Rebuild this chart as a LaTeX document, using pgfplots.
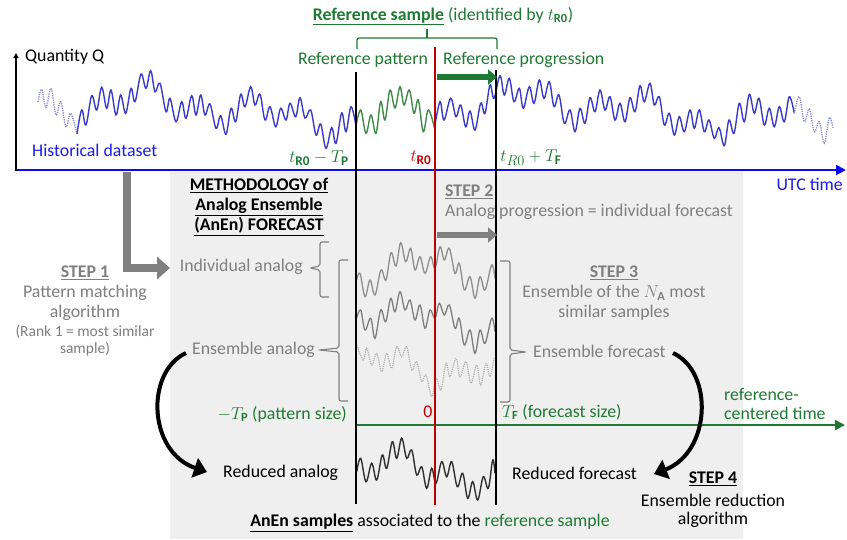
\documentclass[border=0pt]{standalone}
\usepackage{pgfplots}
\pgfplotsset{compat=1.18}
\usepackage{fontspec}
\setmainfont{Carlito}
\usetikzlibrary{arrows.meta}
\definecolor{curveblue}{HTML}{3A3AC8}
\definecolor{dotblue}{HTML}{8C8CDC}
\definecolor{axisblue}{HTML}{0A0AF5}
\definecolor{txtblue}{HTML}{1A1AF0}
\definecolor{mygreen}{HTML}{1E7A32}
\definecolor{curvegreen}{HTML}{3E8C48}
\definecolor{myred}{HTML}{C00000}
\definecolor{gtxt}{HTML}{7F7F7F}
\definecolor{bggray}{HTML}{EFEFEF}
\definecolor{agray}{HTML}{808080}
\definecolor{cA}{HTML}{8E8E8E}
\definecolor{cB}{HTML}{7E7E7E}
\definecolor{cC}{HTML}{B0B0B0}
\definecolor{cR}{HTML}{303030}
\newcommand\fs{\fontsize{17.8}{21}\selectfont}
\begin{document}
\begin{tikzpicture}[every node/.style={font=\fs, inner sep=0pt}]
\begin{axis}[x=1pt, y=1pt, y dir=reverse, xmin=0, xmax=847, ymin=0, ymax=539,
  hide axis, clip=false]
\path[fill=white] (0,0) rectangle (847,539);
\path[fill=bggray] (170,172) rectangle (743,539);
% ---- historical dataset
\addplot[dotblue, densely dotted, line width=1.3pt, smooth, tension=0.6] coordinates {
(38,102) (41.7,89.3) (46,107.7) (51,88.3) (56,115) (60.7,101.7) (66,126.7) (70.7,113.3) (77,134)};
\addplot[curveblue, line width=1.4pt, smooth, tension=0.6] coordinates {
(77,134) (81.7,110) (86,125) (91.7,95.7) (96.7,110) (101.7,87.3) (106.7,108.3) (111,90) (116,115) (120.7,95) (125.7,113.3) (131,88.3) (135,101.7) (141,74) (146,88.3) (150.7,70.7) (155,91.7) (160,83.3) (166,111.7) (170,98.3) (176,121.7) (181.7,101.7) (186,118.3) (191.7,95.7) (196,115) (200.7,95) (205,115) (210,104) (216,128.3) (220.7,115.7) (226,134.3) (231,108.3) (235.7,121.7) (240.7,94.3) (245,106.7) (250.7,86.7) (255,105) (260,94.3) (265,120) (270,106.7) (275.7,126.7) (280.7,108.3) (286,120) (290,103.3) (295.7,116.7) (300,97.7) (305,118) (310.7,110) (316,135) (320.7,124) (326,148.3) (331.7,127.7) (336,143.3) (341.7,113) (346,131.7) (351,106.7) (356,126)};
\addplot[curvegreen, line width=1.4pt, smooth, tension=0.6] coordinates {
(356,126) (360.7,110) (366,133.3) (371,115) (376,133.3) (380.7,101.7) (385,120) (390,90) (395,108) (400,86.7) (404,105) (409.3,90) (414,113.3) (418.3,100) (423.3,131.7) (428.3,110) (434.5,128)};
\addplot[curveblue, line width=1.4pt, smooth, tension=0.6] coordinates {
(434.5,128) (440,101.7) (444,120) (450.7,98.3) (456,116.7) (460.7,105) (465.7,126.7) (470,111) (475,130) (480.7,103.3) (485,113.3) (490,85) (494,98.3) (500,75.7) (504.3,95) (509.3,78.3) (514,101.7) (519.3,88.3) (523.3,108.3) (529.3,86.7) (534,103.3) (539.3,80) (544,98.3) (549.3,81.7) (554,106.7) (559,95) (564.3,123.3) (570,110) (575,131.7) (580,108.3) (585,123.3) (590,97.7) (595,111.7) (600,90) (605,110) (610,96.7) (615,120) (620,103.3) (625,121.7) (630,97.7) (635,111.7) (640,85.7) (644.3,101.7) (650,83.3) (654.3,105) (659.3,96.7) (664.3,125) (669.3,113.3) (674.3,135) (679.3,116.7) (684.3,131.7) (690,110) (694.3,128.3) (699.3,110) (704.3,131.7) (709,120) (714.3,138.3) (719,127.7) (724.3,145.7) (729,120) (734,133.3) (739.3,103.3) (744.3,121.7) (749.3,94.3) (754.3,113.3) (759,98.3) (764.3,125) (769.3,108.3) (774.3,126.7) (779.3,106.7) (784.3,121.7) (789.3,96.7) (794.3,113.3)};
\addplot[dotblue, densely dotted, line width=1.3pt, smooth, tension=0.6] coordinates {
(794.3,113.3) (799.3,96.7) (804.3,121.7) (809.3,109) (814.3,131.7) (819.3,121.7) (824.3,143.3) (829.3,117.7) (833,128)};
% ---- analogs
\addplot[cA, line width=1.3pt, smooth, tension=0.6] coordinates {
(356.7,280) (360,273.3) (365,296.7) (370,280) (375,295) (381,270) (386,280) (391,252.7) (396,266) (400.7,242.7) (405.7,261.7) (410.7,248.3) (415,270) (420,256.7) (425,273.3) (430.7,256.7) (435,268.3) (440,246.7) (444.3,260) (449.3,248.3) (455,273.3) (459.3,263.3) (464.3,290) (470,276.7) (475,298.3) (480,276.7) (485,290) (491.7,265) (495,278.3)};
\addplot[cB, line width=1.3pt, smooth, tension=0.6] coordinates {
(356.7,318) (360.7,310) (365,330) (370.7,318.3) (375,338.3) (380.7,310) (385.7,321.7) (390.7,298.3) (395,311.7) (400,291.7) (405,310) (410,300) (415,320) (420,305) (425,328.3) (430,310) (435,318.3) (439.3,303.3) (444.3,315) (449.3,305) (455,328.3) (459.3,318.3) (464.3,345) (470,330) (475,353.3) (480,330) (485,343.3) (491.7,318.3) (495,331.7)};
\addplot[cC, densely dotted, line width=1.2pt, smooth, tension=0.6] coordinates {
(356.7,345) (363.3,360) (366.7,348.3) (371.7,365) (376.7,353.3) (381.7,371.7) (386.7,353.3) (391.7,368.3) (396.7,346.7) (401.7,356.7) (406.7,346.7) (411.7,370) (416.7,361.7) (421.7,381.7) (426,375) (431.7,396.7) (436,378) (441,390) (446,363.3) (450,376.7) (456,358.3) (460,376.7) (466,361.7) (471,383.3) (476.7,365) (480.7,385) (486,363.3) (490,376.7) (494,358.3)};
\addplot[cR, line width=1.4pt, smooth, tension=0.6] coordinates {
(356.7,471.7) (360.7,458.3) (366,481.7) (371.7,463.3) (376.7,480) (382.3,455) (386.7,468.3) (392.3,441.7) (396.7,458.3) (401.7,438.3) (406.7,458.3) (411.7,450) (416.7,475) (421.7,466.7) (426.7,488.3) (431.7,468.3) (436,483.3) (441.7,461.7) (446.7,476.7) (451.7,461.7) (457.3,486.7) (462.7,473.3) (467.7,498.3) (472.7,481.7) (477.7,500) (483.3,476.7) (488.3,488.3) (492.7,460) (495,473.3)};
% ---- axes
\draw[axisblue, line width=2pt, -{Triangle[length=10pt,width=10pt]}] (16,170) -- (846,170);
\draw[black, line width=1.2pt, -{Triangle[length=5pt,width=5pt]}] (16,171) -- (16,53);
\draw[mygreen, line width=2pt, -{Triangle[length=10pt,width=10pt]}] (356,425) -- (845,425);
% ---- vertical lines
\draw[black, line width=1.5pt] (356,72) -- (356,504);
\draw[black, line width=1.5pt] (496,70) -- (496,505);
\draw[myred, line width=1.5pt] (435,47) -- (435,505);
% ---- thick arrows
\draw[mygreen, line width=6pt, -{Triangle[length=9pt,width=15pt]}] (437,77) -- (497,77);
\draw[agray, line width=6pt, -{Triangle[length=9pt,width=15pt]}] (437,235) -- (497,235);
\draw[agray, line width=8pt, -{Triangle[length=13pt,width=22pt]}] (127,172) -- (127,268) -- (170,268);
% ---- brackets
\draw[mygreen, line width=1.3pt, rounded corners=2pt] (357,49) -- (357,38) -- (497,38) -- (497,49);
\draw[mygreen, line width=1.3pt] (427,38) -- (427,29);
\draw[agray, line width=1.1pt, rounded corners=2pt] (329,242) -- (320,242) -- (320,266) -- (310,268) -- (320,270) -- (320,297) -- (329,297);
\draw[agray, line width=1.1pt, rounded corners=2pt] (348,260) -- (339,260) -- (339,348) -- (319,350) -- (339,352) -- (339,401) -- (348,401);
\draw[agray, line width=1.1pt, rounded corners=2pt] (500,261) -- (510,261) -- (510,350) -- (526,352) -- (510,354) -- (510,402) -- (500,402);
% ---- curved arrows
\draw[black, line width=4pt, -{Triangle[length=13pt,width=20pt]}] (186,353) .. controls (145,372) and (148,452) .. (207,472);
\draw[black, line width=4pt, -{Triangle[length=13pt,width=20pt]}] (673,353) .. controls (714,372) and (711,452) .. (654,474);
% ---- texts
\node[text=mygreen] at (443,16) {\underline{\textbf{Reference sample}} (identified by $t_{\mathbf{R0}}$)};
\node[anchor=west] at (25,57) {Quantity Q};
\node[anchor=west, text=txtblue] at (32,150) {Historical dataset};
\node[text=mygreen] at (363,60) {Reference pattern};
\node[anchor=west, text=mygreen] at (443,60) {Reference progression};
\node[text=mygreen, font=\fontsize{19}{21}\selectfont] at (319,158) {$t_{\mathbf{R0}} - T_{\mathbf{P}}$};
\node[text=myred, font=\fontsize{19}{21}\selectfont] at (421,158) {$t_{\mathbf{R0}}$};
\node[text=mygreen, font=\fontsize{19}{21}\selectfont] at (531,158) {$t_{R0} + T_{\mathbf{F}}$};
\node[anchor=east, text=txtblue] at (843,184) {UTC time};
\node[align=center] at (259,207) {\underline{\textbf{METHODOLOGY of}}\\[-1pt] \underline{\textbf{Analog Ensemble}}\\[-1pt] \underline{\textbf{(AnEn) FORECAST}}};
\node[anchor=west, text=gtxt] at (445,192) {\underline{\textbf{STEP 2}}};
\node[anchor=west, text=gtxt] at (445,212) {Analog progression = individual forecast};
\node[text=gtxt] at (85,273) {\underline{\textbf{STEP 1}}};
\node[text=gtxt] at (85,293) {Pattern matching};
\node[text=gtxt] at (85,313) {algorithm};
\node[text=gtxt, font=\fontsize{15.5}{17}\selectfont] at (85,332) {(Rank 1 = most similar};
\node[text=gtxt, font=\fontsize{15.5}{17}\selectfont] at (85,349) {sample)};
\node[anchor=east, text=gtxt] at (303,267) {Individual analog};
\node[anchor=east, text=gtxt] at (315,350) {Ensemble analog};
\node[text=gtxt] at (614,273) {\underline{\textbf{STEP 3}}};
\node[text=gtxt] at (614,293) {Ensemble of the $N_{\mathbf{A}}$ most};
\node[text=gtxt] at (614,313) {similar samples};
\node[anchor=west, text=gtxt] at (533,351) {Ensemble forecast};
\node[anchor=east, text=mygreen] at (347,414) {$-T_{\mathbf{P}}$ (pattern size)};
\node[text=myred] at (428,412) {0};
\node[anchor=west, text=mygreen] at (502,412) {$T_{\mathbf{F}}$ (forecast size)};
\node[anchor=west, text=mygreen] at (724,394) {reference-};
\node[anchor=west, text=mygreen] at (724,413) {centered time};
\node[anchor=west] at (223,473) {Reduced analog};
\node[anchor=west] at (512,473) {Reduced forecast};
\node at (713,479) {\underline{\textbf{STEP 4}}};
\node at (713,500) {Ensemble reduction};
\node at (713,520) {algorithm};
\node at (430,523) {\underline{\textbf{AnEn samples}} associated to the \textcolor{mygreen}{reference sample}};
\end{axis}
\end{tikzpicture}
\end{document}
